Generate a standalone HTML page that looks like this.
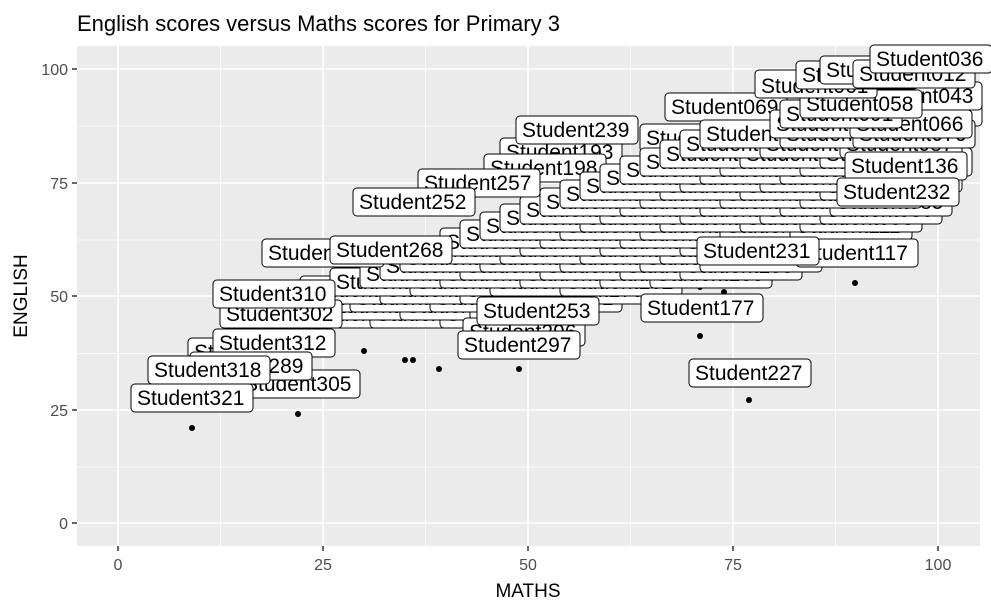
<!DOCTYPE html>
<html><head><meta charset="utf-8"><style>
body{margin:0;background:#fff}
svg{display:block}
.l rect{fill:#fff;stroke:#000;stroke-width:1}
.l text{font-family:"Liberation Sans",sans-serif;font-size:21px;fill:#000}
.t{font-family:"Liberation Sans",sans-serif;font-size:16px;fill:#4d4d4d}
</style></head><body>
<svg width="991" height="612" viewBox="0 0 991 612" xmlns="http://www.w3.org/2000/svg">
<text x="77" y="31" font-family="Liberation Sans,sans-serif" font-size="22" fill="#000">English scores versus Maths scores for Primary 3</text>
<rect x="77" y="46" width="903" height="500" fill="#ebebeb"/>
<g stroke="#fff" stroke-width="0.7">
<line x1="220.5" y1="46" x2="220.5" y2="546"/><line x1="425.5" y1="46" x2="425.5" y2="546"/><line x1="630.5" y1="46" x2="630.5" y2="546"/><line x1="835.5" y1="46" x2="835.5" y2="546"/>
<line x1="77" y1="126" x2="980" y2="126"/><line x1="77" y1="240" x2="980" y2="240"/><line x1="77" y1="353.5" x2="980" y2="353.5"/><line x1="77" y1="467" x2="980" y2="467"/>
</g>
<g stroke="#fff" stroke-width="1.6">
<line x1="118" y1="46" x2="118" y2="546"/><line x1="323" y1="46" x2="323" y2="546"/><line x1="528" y1="46" x2="528" y2="546"/><line x1="733" y1="46" x2="733" y2="546"/><line x1="938" y1="46" x2="938" y2="546"/>
<line x1="77" y1="69" x2="980" y2="69"/><line x1="77" y1="183" x2="980" y2="183"/><line x1="77" y1="296" x2="980" y2="296"/><line x1="77" y1="410" x2="980" y2="410"/><line x1="77" y1="523" x2="980" y2="523"/>
</g>
<g stroke="#333" stroke-width="1.5">
<line x1="118" y1="546" x2="118" y2="551"/><line x1="323" y1="546" x2="323" y2="551"/><line x1="528" y1="546" x2="528" y2="551"/><line x1="733" y1="546" x2="733" y2="551"/><line x1="938" y1="546" x2="938" y2="551"/>
<line x1="72" y1="69" x2="77" y2="69"/><line x1="72" y1="183" x2="77" y2="183"/><line x1="72" y1="296" x2="77" y2="296"/><line x1="72" y1="410" x2="77" y2="410"/><line x1="72" y1="523" x2="77" y2="523"/>
</g>
<g class="t" text-anchor="middle">
<text x="118" y="570">0</text><text x="323" y="570">25</text><text x="528" y="570">50</text><text x="733" y="570">75</text><text x="938" y="570">100</text>
</g>
<g class="t" text-anchor="end">
<text x="68" y="75">100</text><text x="68" y="189">75</text><text x="68" y="302">50</text><text x="68" y="416">25</text><text x="68" y="529">0</text>
</g>
<text x="528" y="597" text-anchor="middle" font-family="Liberation Sans,sans-serif" font-size="19">MATHS</text>
<text transform="translate(27,296) rotate(-90)" text-anchor="middle" font-family="Liberation Sans,sans-serif" font-size="19">ENGLISH</text>
<g fill="#000">
<circle cx="192" cy="428" r="3"/><circle cx="298" cy="414" r="3"/><circle cx="364" cy="351" r="3"/><circle cx="405" cy="360" r="3"/><circle cx="413" cy="360" r="3"/><circle cx="439" cy="369" r="3"/><circle cx="519" cy="355" r="3"/><circle cx="519" cy="369" r="3"/><circle cx="700" cy="287" r="3"/><circle cx="700" cy="336" r="3"/><circle cx="724" cy="292" r="3"/><circle cx="749" cy="282" r="3"/><circle cx="749" cy="400" r="3"/><circle cx="757" cy="278" r="3"/><circle cx="855" cy="283" r="3"/>
</g>
<g class="l">
<g transform="translate(640,124)"><rect width="122" height="28" rx="4"/><text x="6" y="21">Student161</text></g>
<g transform="translate(500,138)"><rect width="122" height="28" rx="4"/><text x="6" y="21">Student193</text></g>
<g transform="translate(484,154)"><rect width="122" height="28" rx="4"/><text x="6" y="21">Student198</text></g>
<g transform="translate(665,93)"><rect width="122" height="28" rx="4"/><text x="6" y="21">Student069</text></g>
<g transform="translate(860,98)"><rect width="122" height="28" rx="4"/><text x="6" y="21">Student047</text></g>
<g transform="translate(860,82)"><rect width="122" height="28" rx="4"/><text x="6" y="21">Student043</text></g>
<g transform="translate(230,300)"><rect width="122" height="28" rx="4"/><text x="6" y="21">Student301</text></g>
<g transform="translate(300,300)"><rect width="122" height="28" rx="4"/><text x="6" y="21">Student274</text></g>
<g transform="translate(370,300)"><rect width="122" height="28" rx="4"/><text x="6" y="21">Student211</text></g>
<g transform="translate(440,300)"><rect width="122" height="28" rx="4"/><text x="6" y="21">Student209</text></g>
<g transform="translate(250,292)"><rect width="122" height="28" rx="4"/><text x="6" y="21">Student288</text></g>
<g transform="translate(320,292)"><rect width="122" height="28" rx="4"/><text x="6" y="21">Student295</text></g>
<g transform="translate(400,292)"><rect width="122" height="28" rx="4"/><text x="6" y="21">Student214</text></g>
<g transform="translate(470,292)"><rect width="122" height="28" rx="4"/><text x="6" y="21">Student218</text></g>
<g transform="translate(280,284)"><rect width="122" height="28" rx="4"/><text x="6" y="21">Student277</text></g>
<g transform="translate(350,284)"><rect width="122" height="28" rx="4"/><text x="6" y="21">Student265</text></g>
<g transform="translate(430,284)"><rect width="122" height="28" rx="4"/><text x="6" y="21">Student201</text></g>
<g transform="translate(500,284)"><rect width="122" height="28" rx="4"/><text x="6" y="21">Student171</text></g>
<g transform="translate(300,276)"><rect width="122" height="28" rx="4"/><text x="6" y="21">Student280</text></g>
<g transform="translate(380,276)"><rect width="122" height="28" rx="4"/><text x="6" y="21">Student298</text></g>
<g transform="translate(460,276)"><rect width="122" height="28" rx="4"/><text x="6" y="21">Student204</text></g>
<g transform="translate(530,276)"><rect width="122" height="28" rx="4"/><text x="6" y="21">Student170</text></g>
<g transform="translate(330,268)"><rect width="122" height="28" rx="4"/><text x="6" y="21">Student276</text></g>
<g transform="translate(410,268)"><rect width="122" height="28" rx="4"/><text x="6" y="21">Student256</text></g>
<g transform="translate(490,268)"><rect width="122" height="28" rx="4"/><text x="6" y="21">Student222</text></g>
<g transform="translate(560,268)"><rect width="122" height="28" rx="4"/><text x="6" y="21">Student162</text></g>
<g transform="translate(360,260)"><rect width="122" height="28" rx="4"/><text x="6" y="21">Student273</text></g>
<g transform="translate(440,260)"><rect width="122" height="28" rx="4"/><text x="6" y="21">Student246</text></g>
<g transform="translate(520,260)"><rect width="122" height="28" rx="4"/><text x="6" y="21">Student212</text></g>
<g transform="translate(600,260)"><rect width="122" height="28" rx="4"/><text x="6" y="21">Student180</text></g>
<g transform="translate(650,260)"><rect width="122" height="28" rx="4"/><text x="6" y="21">Student166</text></g>
<g transform="translate(380,252)"><rect width="122" height="28" rx="4"/><text x="6" y="21">Student270</text></g>
<g transform="translate(460,252)"><rect width="122" height="28" rx="4"/><text x="6" y="21">Student243</text></g>
<g transform="translate(540,252)"><rect width="122" height="28" rx="4"/><text x="6" y="21">Student192</text></g>
<g transform="translate(620,252)"><rect width="122" height="28" rx="4"/><text x="6" y="21">Student188</text></g>
<g transform="translate(680,252)"><rect width="122" height="28" rx="4"/><text x="6" y="21">Student155</text></g>
<g transform="translate(400,244)"><rect width="122" height="28" rx="4"/><text x="6" y="21">Student261</text></g>
<g transform="translate(480,244)"><rect width="122" height="28" rx="4"/><text x="6" y="21">Student238</text></g>
<g transform="translate(560,244)"><rect width="122" height="28" rx="4"/><text x="6" y="21">Student190</text></g>
<g transform="translate(640,244)"><rect width="122" height="28" rx="4"/><text x="6" y="21">Student173</text></g>
<g transform="translate(700,244)"><rect width="122" height="28" rx="4"/><text x="6" y="21">Student151</text></g>
<g transform="translate(420,236)"><rect width="122" height="28" rx="4"/><text x="6" y="21">Student255</text></g>
<g transform="translate(500,236)"><rect width="122" height="28" rx="4"/><text x="6" y="21">Student230</text></g>
<g transform="translate(580,236)"><rect width="122" height="28" rx="4"/><text x="6" y="21">Student185</text></g>
<g transform="translate(660,236)"><rect width="122" height="28" rx="4"/><text x="6" y="21">Student160</text></g>
<g transform="translate(720,236)"><rect width="122" height="28" rx="4"/><text x="6" y="21">Student145</text></g>
<g transform="translate(440,228)"><rect width="122" height="28" rx="4"/><text x="6" y="21">Student250</text></g>
<g transform="translate(520,228)"><rect width="122" height="28" rx="4"/><text x="6" y="21">Student226</text></g>
<g transform="translate(600,228)"><rect width="122" height="28" rx="4"/><text x="6" y="21">Student183</text></g>
<g transform="translate(680,228)"><rect width="122" height="28" rx="4"/><text x="6" y="21">Student158</text></g>
<g transform="translate(750,228)"><rect width="122" height="28" rx="4"/><text x="6" y="21">Student131</text></g>
<g transform="translate(460,220)"><rect width="122" height="28" rx="4"/><text x="6" y="21">Student247</text></g>
<g transform="translate(540,220)"><rect width="122" height="28" rx="4"/><text x="6" y="21">Student220</text></g>
<g transform="translate(620,220)"><rect width="122" height="28" rx="4"/><text x="6" y="21">Student178</text></g>
<g transform="translate(700,220)"><rect width="122" height="28" rx="4"/><text x="6" y="21">Student149</text></g>
<g transform="translate(770,220)"><rect width="122" height="28" rx="4"/><text x="6" y="21">Student121</text></g>
<g transform="translate(480,212)"><rect width="122" height="28" rx="4"/><text x="6" y="21">Student241</text></g>
<g transform="translate(560,212)"><rect width="122" height="28" rx="4"/><text x="6" y="21">Student215</text></g>
<g transform="translate(640,212)"><rect width="122" height="28" rx="4"/><text x="6" y="21">Student172</text></g>
<g transform="translate(720,212)"><rect width="122" height="28" rx="4"/><text x="6" y="21">Student141</text></g>
<g transform="translate(790,212)"><rect width="122" height="28" rx="4"/><text x="6" y="21">Student111</text></g>
<g transform="translate(500,204)"><rect width="122" height="28" rx="4"/><text x="6" y="21">Student236</text></g>
<g transform="translate(580,204)"><rect width="122" height="28" rx="4"/><text x="6" y="21">Student207</text></g>
<g transform="translate(660,204)"><rect width="122" height="28" rx="4"/><text x="6" y="21">Student165</text></g>
<g transform="translate(740,204)"><rect width="122" height="28" rx="4"/><text x="6" y="21">Student133</text></g>
<g transform="translate(800,204)"><rect width="122" height="28" rx="4"/><text x="6" y="21">Student096</text></g>
<g transform="translate(520,196)"><rect width="122" height="28" rx="4"/><text x="6" y="21">Student233</text></g>
<g transform="translate(600,196)"><rect width="122" height="28" rx="4"/><text x="6" y="21">Student199</text></g>
<g transform="translate(680,196)"><rect width="122" height="28" rx="4"/><text x="6" y="21">Student159</text></g>
<g transform="translate(760,196)"><rect width="122" height="28" rx="4"/><text x="6" y="21">Student127</text></g>
<g transform="translate(820,196)"><rect width="122" height="28" rx="4"/><text x="6" y="21">Student089</text></g>
<g transform="translate(540,188)"><rect width="122" height="28" rx="4"/><text x="6" y="21">Student228</text></g>
<g transform="translate(620,188)"><rect width="122" height="28" rx="4"/><text x="6" y="21">Student194</text></g>
<g transform="translate(700,188)"><rect width="122" height="28" rx="4"/><text x="6" y="21">Student146</text></g>
<g transform="translate(780,188)"><rect width="122" height="28" rx="4"/><text x="6" y="21">Student120</text></g>
<g transform="translate(830,188)"><rect width="122" height="28" rx="4"/><text x="6" y="21">Student085</text></g>
<g transform="translate(560,180)"><rect width="122" height="28" rx="4"/><text x="6" y="21">Student223</text></g>
<g transform="translate(640,180)"><rect width="122" height="28" rx="4"/><text x="6" y="21">Student186</text></g>
<g transform="translate(720,180)"><rect width="122" height="28" rx="4"/><text x="6" y="21">Student140</text></g>
<g transform="translate(800,180)"><rect width="122" height="28" rx="4"/><text x="6" y="21">Student119</text></g>
<g transform="translate(580,172)"><rect width="122" height="28" rx="4"/><text x="6" y="21">Student219</text></g>
<g transform="translate(660,172)"><rect width="122" height="28" rx="4"/><text x="6" y="21">Student174</text></g>
<g transform="translate(740,172)"><rect width="122" height="28" rx="4"/><text x="6" y="21">Student135</text></g>
<g transform="translate(820,172)"><rect width="122" height="28" rx="4"/><text x="6" y="21">Student102</text></g>
<g transform="translate(600,164)"><rect width="122" height="28" rx="4"/><text x="6" y="21">Student213</text></g>
<g transform="translate(680,164)"><rect width="122" height="28" rx="4"/><text x="6" y="21">Student167</text></g>
<g transform="translate(760,164)"><rect width="122" height="28" rx="4"/><text x="6" y="21">Student125</text></g>
<g transform="translate(840,164)"><rect width="122" height="28" rx="4"/><text x="6" y="21">Student095</text></g>
<g transform="translate(620,156)"><rect width="122" height="28" rx="4"/><text x="6" y="21">Student206</text></g>
<g transform="translate(700,156)"><rect width="122" height="28" rx="4"/><text x="6" y="21">Student154</text></g>
<g transform="translate(780,156)"><rect width="122" height="28" rx="4"/><text x="6" y="21">Student115</text></g>
<g transform="translate(640,148)"><rect width="122" height="28" rx="4"/><text x="6" y="21">Student195</text></g>
<g transform="translate(720,148)"><rect width="122" height="28" rx="4"/><text x="6" y="21">Student148</text></g>
<g transform="translate(800,148)"><rect width="122" height="28" rx="4"/><text x="6" y="21">Student105</text></g>
<g transform="translate(850,148)"><rect width="122" height="28" rx="4"/><text x="6" y="21">Student081</text></g>
<g transform="translate(660,140)"><rect width="122" height="28" rx="4"/><text x="6" y="21">Student181</text></g>
<g transform="translate(740,140)"><rect width="122" height="28" rx="4"/><text x="6" y="21">Student139</text></g>
<g transform="translate(820,140)"><rect width="122" height="28" rx="4"/><text x="6" y="21">Student099</text></g>
<g transform="translate(680,130)"><rect width="122" height="28" rx="4"/><text x="6" y="21">Student176</text></g>
<g transform="translate(760,130)"><rect width="122" height="28" rx="4"/><text x="6" y="21">Student129</text></g>
<g transform="translate(840,130)"><rect width="122" height="28" rx="4"/><text x="6" y="21">Student087</text></g>
<g transform="translate(700,120)"><rect width="122" height="28" rx="4"/><text x="6" y="21">Student163</text></g>
<g transform="translate(780,120)"><rect width="122" height="28" rx="4"/><text x="6" y="21">Student112</text></g>
<g transform="translate(853,120)"><rect width="122" height="28" rx="4"/><text x="6" y="21">Student076</text></g>
<g transform="translate(770,110)"><rect width="122" height="28" rx="4"/><text x="6" y="21">Student107</text></g>
<g transform="translate(850,110)"><rect width="122" height="28" rx="4"/><text x="6" y="21">Student066</text></g>
<g transform="translate(780,100)"><rect width="122" height="28" rx="4"/><text x="6" y="21">Student091</text></g>
<g transform="translate(800,90)"><rect width="122" height="28" rx="4"/><text x="6" y="21">Student058</text></g>
<g transform="translate(755,70)"><rect width="122" height="28" rx="4"/><text x="6" y="23">Student061</text></g>
<g transform="translate(796,61)"><rect width="122" height="28" rx="4"/><text x="6" y="21">Student052</text></g>
<g transform="translate(820,56)"><rect width="122" height="28" rx="4"/><text x="6" y="21">Student040</text></g>
<g transform="translate(853,60)"><rect width="122" height="28" rx="4"/><text x="6" y="21">Student012</text></g>
<g transform="translate(870,45)"><rect width="122" height="28" rx="4"/><text x="6" y="21">Student036</text></g>
<g transform="translate(845,152)"><rect width="122" height="28" rx="4"/><text x="6" y="21">Student136</text></g>
<g transform="translate(837,178)"><rect width="122" height="28" rx="4"/><text x="6" y="21">Student232</text></g>
<g transform="translate(516,116)"><rect width="122" height="28" rx="4"/><text x="6" y="21">Student239</text></g>
<g transform="translate(418,169)"><rect width="122" height="28" rx="4"/><text x="6" y="21">Student257</text></g>
<g transform="translate(353,188)"><rect width="122" height="28" rx="4"/><text x="6" y="21">Student252</text></g>
<g transform="translate(262,239)"><rect width="122" height="28" rx="4"/><text x="6" y="21">Student263</text></g>
<g transform="translate(330,236)"><rect width="122" height="28" rx="4"/><text x="6" y="21">Student268</text></g>
<g transform="translate(220,300)"><rect width="122" height="28" rx="4"/><text x="6" y="21">Student302</text></g>
<g transform="translate(213,280)"><rect width="122" height="28" rx="4"/><text x="6" y="21">Student310</text></g>
<g transform="translate(463,318)"><rect width="122" height="28" rx="4"/><text x="6" y="21">Student296</text></g>
<g transform="translate(458,331)"><rect width="122" height="28" rx="4"/><text x="6" y="21">Student297</text></g>
<g transform="translate(477,297)"><rect width="122" height="28" rx="4"/><text x="6" y="21">Student253</text></g>
<g transform="translate(796,239)"><rect width="122" height="28" rx="4"/><text x="6" y="21">Student117</text></g>
<g transform="translate(697,237)"><rect width="122" height="28" rx="4"/><text x="6" y="21">Student231</text></g>
<g transform="translate(641,294)"><rect width="122" height="28" rx="4"/><text x="6" y="21">Student177</text></g>
<g transform="translate(689,359)"><rect width="122" height="28" rx="4"/><text x="6" y="21">Student227</text></g>
<g transform="translate(188,338)"><rect width="122" height="28" rx="4"/><text x="6" y="21">Student316</text></g>
<g transform="translate(213,329)"><rect width="122" height="28" rx="4"/><text x="6" y="21">Student312</text></g>
<g transform="translate(238,370)"><rect width="122" height="28" rx="4"/><text x="6" y="21">Student305</text></g>
<g transform="translate(190,352)"><rect width="122" height="28" rx="4"/><text x="6" y="21">Student289</text></g>
<g transform="translate(148,356)"><rect width="122" height="28" rx="4"/><text x="6" y="21">Student318</text></g>
<g transform="translate(131,384)"><rect width="122" height="28" rx="4"/><text x="6" y="21">Student321</text></g>
</g>
</svg>
</body></html>
